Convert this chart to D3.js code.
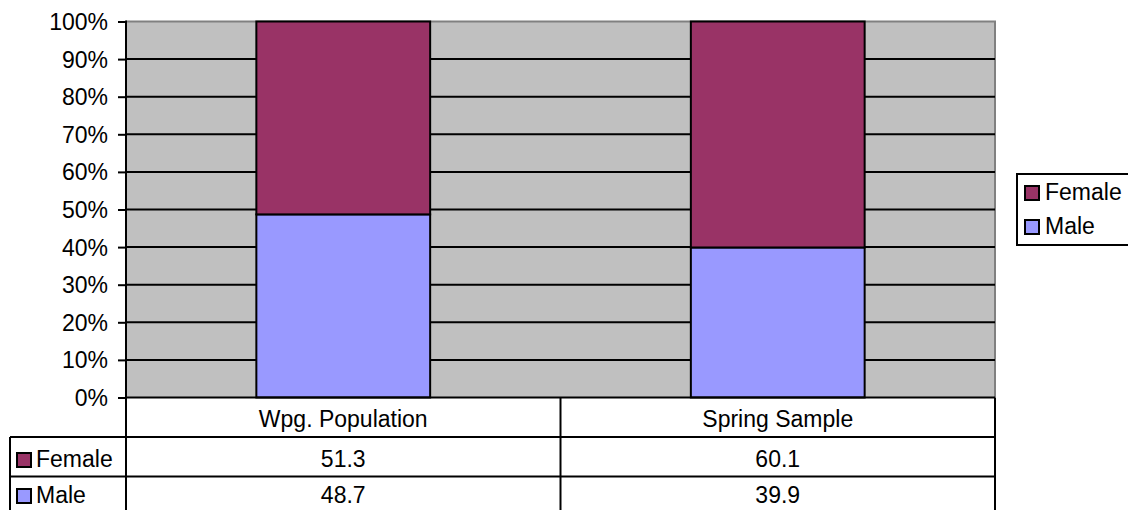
<!DOCTYPE html>
<html><head><meta charset="utf-8">
<script src="https://cdn.jsdelivr.net/npm/d3@7"></script>
<style>body{margin:0;background:#fff}svg{display:block;font-family:Arial,"Liberation Sans",sans-serif}</style>
</head><body><svg id="c" width="1128" height="510"></svg>
<script>
const categories = ["Wpg. Population", "Spring Sample"];
const seriesNames = ["Female", "Male"];
const femaleValues = [51.3, 60.1];
const maleValues = [48.7, 39.9];
const yTicks = [0, 10, 20, 30, 40, 50, 60, 70, 80, 90, 100];
const colors = {Female: "#993366", Male: "#9999FF"};

const FS = 23;
const svg = d3.select("#c");
const L = 126, R = 995, T = 21.5, B = 397.5;
const x = d3.scaleBand().domain(categories).range([L, R]).paddingInner(0.6).paddingOuter(0.3);
const xCell = d3.scaleBand().domain(categories).range([L, R]);
const y = d3.scaleLinear().domain([0, 100]).range([B, T]);

// plot area
svg.append("rect").attr("x", L).attr("y", T).attr("width", R - L).attr("height", B - T).attr("fill", "#C0C0C0");
svg.append("path").attr("d", `M${L},${T}H${R}V${B}`).attr("fill", "none").attr("stroke", "#808080").attr("stroke-width", 2);
// gridlines
svg.append("g").selectAll("line").data(yTicks.filter(d => d > 0 && d < 100)).join("line")
  .attr("x1", L).attr("x2", R).attr("y1", d => y(d)).attr("y2", d => y(d)).attr("stroke", "#000").attr("stroke-width", 2);

// stacked bars
const rows = categories.map((c, i) => ({cat: c, Male: maleValues[i], Female: femaleValues[i]}));
const stack = d3.stack().keys(["Male", "Female"]).offset(d3.stackOffsetExpand);
const layers = stack(rows);
svg.append("g").selectAll("g").data(layers).join("g").attr("fill", d => colors[d.key])
  .selectAll("rect").data(d => d).join("rect")
  .attr("x", d => x(d.data.cat)).attr("width", x.bandwidth())
  .attr("y", d => y(d[1] * 100)).attr("height", d => y(d[0] * 100) - y(d[1] * 100))
  .attr("stroke", "#000").attr("stroke-width", 2);

// y axis
const yAxis = d3.axisLeft(y).tickValues(yTicks).tickFormat(d => d + "%").tickSize(8).tickPadding(4);
const ga = svg.append("g").attr("transform", `translate(${L},0)`).call(yAxis);
ga.select(".domain").remove();
ga.selectAll(".tick line").attr("stroke", "#000").attr("stroke-width", 2).attr("x2", -8);
ga.selectAll(".tick text").attr("font-size", FS).attr("fill", "#000")
  .attr("font-family", "Arial, 'Liberation Sans', sans-serif").attr("x", -18).attr("dy", "0.35em");
svg.append("line").attr("x1", L).attr("x2", L).attr("y1", T - 1).attr("y2", 512).attr("stroke", "#000").attr("stroke-width", 2);

// data table
const rowTops = [397.5, 437, 476.5, 516];
const baselines = [427, 467, 503];
const tbl = svg.append("g");
tbl.selectAll("text.hdr").data(categories).join("text").attr("class", "hdr")
  .attr("x", d => xCell(d) + xCell.bandwidth() / 2).attr("y", baselines[0]).attr("text-anchor", "middle")
  .attr("font-size", FS).text(d => d);
const tableSeries = [["Female", femaleValues], ["Male", maleValues]];
tableSeries.forEach(([name, vals], r) => {
  const bl = baselines[r + 1];
  tbl.selectAll(null).data(vals).join("text")
    .attr("x", (d, i) => xCell(categories[i]) + xCell.bandwidth() / 2).attr("y", bl)
    .attr("text-anchor", "middle").attr("font-size", FS).text(d => d.toFixed(1));
  tbl.append("rect").attr("x", 17).attr("y", bl - 14).attr("width", 14).attr("height", 14)
    .attr("fill", colors[name]).attr("stroke", "#000").attr("stroke-width", 2);
  tbl.append("text").attr("x", 36).attr("y", bl).attr("font-size", FS).text(name);
});
// table lines
tbl.append("line").attr("x1", L).attr("x2", R).attr("y1", rowTops[0]).attr("y2", rowTops[0]).attr("stroke", "#000").attr("stroke-width", 2);
[1, 2].forEach(k => tbl.append("line").attr("x1", 10).attr("x2", R).attr("y1", rowTops[k]).attr("y2", rowTops[k]).attr("stroke", "#000").attr("stroke-width", 2));
tbl.append("line").attr("x1", 10).attr("x2", 10).attr("y1", rowTops[1]).attr("y2", 512).attr("stroke", "#000").attr("stroke-width", 2);
tbl.append("line").attr("x1", R).attr("x2", R).attr("y1", rowTops[0]).attr("y2", 512).attr("stroke", "#000").attr("stroke-width", 2);
tbl.append("line").attr("x1", xCell(categories[1])).attr("x2", xCell(categories[1])).attr("y1", rowTops[0]).attr("y2", 512).attr("stroke", "#000").attr("stroke-width", 2);

// legend
const lg = svg.append("g");
lg.append("rect").attr("x", 1017).attr("y", 174).attr("width", 130).attr("height", 71).attr("fill", "#fff").attr("stroke", "#000").attr("stroke-width", 2);
seriesNames.forEach((name, i) => {
  const bl = 200 + i * 34;
  lg.append("rect").attr("x", 1025).attr("y", bl - 14).attr("width", 14).attr("height", 14)
    .attr("fill", colors[name]).attr("stroke", "#000").attr("stroke-width", 2);
  lg.append("text").attr("x", 1045).attr("y", bl).attr("font-size", FS).text(name);
});
</script></body></html>
